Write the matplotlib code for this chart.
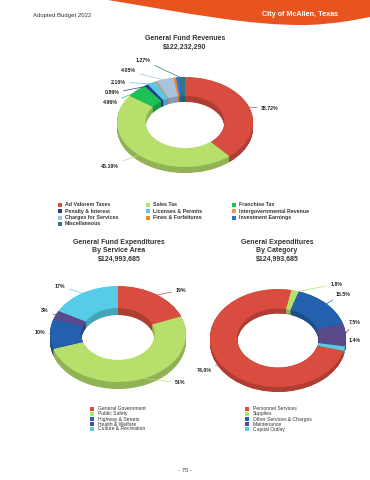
import numpy as np
import matplotlib
matplotlib.use("Agg")
import matplotlib.pyplot as plt
from matplotlib.path import Path
from matplotlib.patches import PathPatch, Rectangle
from matplotlib.colors import to_rgb

plt.rcParams['font.family'] = ['Liberation Sans', 'DejaVu Sans']

# General Fund Revenues
rev_names = ["Ad Valorem Taxes", "Sales Tax", "Franchise Tax", "Penalty & Interest",
             "Licenses & Permits", "Intergovernmental Revenue", "Charges for Services",
             "Fines & Forfeitures", "Investment Earnings", "Miscellaneous"]
rev_values = [38.72, 46.19, 4.96, 0.89, 2.10, 0.35, 4.05, 0.62, 0.85, 1.27]
rev_colors = ["#d94c40", "#b6df6c", "#1ec155", "#2b3a97", "#5cc8e6", "#f2955a",
              "#a9c2de", "#f28a1d", "#2f6fdc", "#2a7788"]

# General Fund Expenditures by service area
area_names = ["General Government", "Public Safety", "Highway & Streets",
              "Health & Welfare", "Culture & Recreation"]
area_values = [19, 51, 10, 3, 17]
area_colors = ["#d94c40", "#b6df6c", "#2360ad", "#5b4a8b", "#57cce6"]

# General Expenditures by category
cat_names = ["Personnel Services", "Supplies", "Other Services & Charges",
             "Maintenance", "Capital Outlay"]
cat_values = [74.0, 1.8, 15.3, 7.5, 1.4]
cat_colors = ["#d94c40", "#b6df6c", "#2360ad", "#5b4a8b", "#57cce6"]

W, H = 370, 480
fig = plt.figure(figsize=(W / 100, H / 100), dpi=100)
bg = fig.add_axes([0, 0, 1, 1])
bg.set_xlim(0, W)
bg.set_ylim(H, 0)
bg.axis('off')

# header swoosh
verts = [(108, 0), (180, 12), (250, 26), (307, 25), (335, 24), (355, 20), (370, 17),
         (370, 0), (108, 0)]
codes = [Path.MOVETO, Path.CURVE4, Path.CURVE4, Path.CURVE4, Path.CURVE4, Path.CURVE4,
         Path.CURVE4, Path.LINETO, Path.CLOSEPOLY]
bg.add_patch(PathPatch(Path(verts, codes), facecolor="#e8541f", edgecolor="none"))
bg.text(33, 15, "Adopted Budget 2022", fontsize=4.3, color="#333333", va='center')
bg.text(300, 15, "City of McAllen, Texas", fontsize=5.2, color="white",
        fontweight='bold', ha='center', va='center')
bg.text(185, 470, "- 75 -", fontsize=4.3, color="#444444", ha='center', va='center')

# titles
bg.text(185, 43, "General Fund Revenues\n$122,232,290", fontsize=5, fontweight='bold',
        color="#333333", ha='center', va='center', linespacing=1.3)
bg.text(119, 251, "General Fund Expenditures\nBy Service Area\n$124,993,685", fontsize=5,
        fontweight='bold', color="#333333", ha='center', va='center', linespacing=1.25)
bg.text(277, 251, "General Expenditures\nBy Category\n$124,993,685", fontsize=5,
        fontweight='bold', color="#333333", ha='center', va='center', linespacing=1.25)


def darker(c, f=0.8):
    r, g, b = to_rgb(c)
    return (r * f, g * f, b * f)


def donut(cx, cy, rx, ry, depth, values, colors, start, hole):
    ax = fig.add_axes([(cx - rx) / W, (H - (cy + ry + depth)) / H,
                       2 * rx / W, (2 * ry + depth) / H])
    d = depth / ry
    side = [darker(c) for c in colors]
    for k in range(14, 0, -1):
        ax.pie(values, colors=side, startangle=start, counterclock=False, radius=1,
               center=(0, -d * k / 14), wedgeprops=dict(width=1 - hole, linewidth=0))
    ax.pie(values, colors=colors, startangle=start, counterclock=False, radius=1,
           center=(0, 0), wedgeprops=dict(width=1 - hole, linewidth=0))
    ax.set_aspect('auto')
    ax.set_xlim(-1, 1)
    ax.set_ylim(-1 - d, 1)
    ax.axis('off')
    return ax


def label(ax, values, colors, start, idx, text, px, py, ha='center'):
    total = float(sum(values))
    before = sum(values[:idx])
    mid = np.deg2rad(start - 360 * (before + values[idx] / 2) / total)
    ax.annotate(text, xy=(0.97 * np.cos(mid), 0.97 * np.sin(mid)), xycoords='data',
                xytext=(px, H - py), textcoords='figure pixels', fontsize=3.8,
                fontweight='bold', color="#222222", ha=ha, va='center',
                annotation_clip=False,
                arrowprops=dict(arrowstyle='-', color=colors[idx], lw=0.5,
                                shrinkA=1, shrinkB=0))


# revenue donut
ax1 = donut(185, 122, 68, 45, 6, rev_values, rev_colors, 90, 0.58)
rev_labels = [(9, "1.27%", 143, 60), (6, "4.05%", 128, 71), (4, "2.10%", 118, 82),
              (3, "0.89%", 112, 93), (2, "4.96%", 110, 103), (0, "38.72%", 270, 109),
              (1, "46.19%", 110, 166)]
for i, t, px, py in rev_labels:
    label(ax1, rev_values, rev_colors, 90, i, t, px, py)

# service area donut
ax2 = donut(118, 334, 68, 48, 7, area_values, area_colors, 90, 0.54)
area_labels = [(0, "19%", 181, 290), (1, "51%", 180, 383), (2, "10%", 40, 332),
               (3, "3%", 45, 311), (4, "17%", 60, 286)]
for i, t, px, py in area_labels:
    label(ax2, area_values, area_colors, 90, i, t, px, py)

# category donut
cat_start = -15
ax3 = donut(278, 338, 68, 49, 5, cat_values, cat_colors, cat_start, 0.6)
cat_labels = [(1, "1.8%", 337, 284), (2, "15.5%", 343, 294), (3, "7.5%", 355, 323),
              (4, "1.4%", 355, 340), (0, "74.0%", 204, 370)]
for i, t, px, py in cat_labels:
    label(ax3, cat_values, cat_colors, cat_start, i, t, px, py)

# revenue legend, three columns filled row by row
for i, name in enumerate(rev_names):
    row, col = divmod(i, 3)
    x = [60, 148, 234][col]
    y = 205 + row * 6.3
    bg.add_patch(Rectangle((x - 2, y - 2), 4, 4, color=rev_colors[i], lw=0))
    bg.text(x + 5, y, name, fontsize=3.8, fontweight='bold', color="#333333", va='center')

# expenditure legends
for names, colors, x in [(area_names, area_colors, 92), (cat_names, cat_colors, 247)]:
    for i, name in enumerate(names):
        y = 409 + i * 5
        bg.add_patch(Rectangle((x - 2, y - 2), 4, 4, color=colors[i], lw=0))
        bg.text(x + 6, y, name, fontsize=3.6, color="#333333", va='center')

fig.savefig("out.png", dpi=100)
